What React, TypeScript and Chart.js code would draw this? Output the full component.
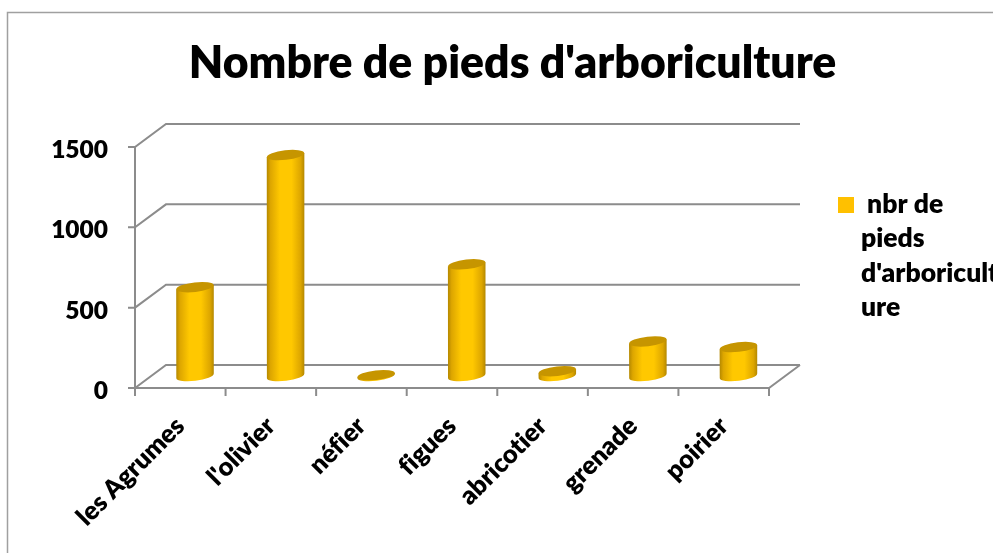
import React, { useEffect, useRef } from "react";
import { Chart, registerables } from "chart.js";

Chart.register(...registerables);

const categories = ["les Agrumes", "l'olivier", "néfier", "figues", "abricotier", "grenade", "poirier"];
const seriesValues = [553, 1375, 5, 695, 30, 215, 180];
const seriesName = "nbr de pieds d'arboriculture";
const legendLines = [" nbr de", "pieds", "d'arboricult", "ure"];
const chartTitle = "Nombre de pieds d'arboriculture";
const yTicks = [0, 500, 1000, 1500];

const FONT = "Lato, 'Open Sans', sans-serif";
const GRID = "#8c8c8c";
const DX = 31;
const DY = -23;

function cylinder(ctx: CanvasRenderingContext2D, cx: number, topY: number, baseY: number, w: number) {
  const rx = w / 2;
  const ry = 4.8;
  const tilt = -0.115;
  const sl = Math.sin(tilt) * rx;
  ctx.save();
  const g = ctx.createLinearGradient(cx - rx, 0, cx + rx, 0);
  g.addColorStop(0, "#B48800");
  g.addColorStop(0.1, "#DDA600");
  g.addColorStop(0.35, "#FFC800");
  g.addColorStop(0.66, "#FFC800");
  g.addColorStop(0.9, "#DDA600");
  g.addColorStop(1, "#B48800");
  ctx.fillStyle = g;
  ctx.beginPath();
  ctx.moveTo(cx - rx, topY - sl);
  ctx.lineTo(cx + rx, topY + sl);
  ctx.lineTo(cx + rx, baseY + sl);
  ctx.ellipse(cx, baseY, rx, ry, tilt, 0, Math.PI);
  ctx.closePath();
  ctx.fill();
  ctx.fillStyle = "#C69500";
  ctx.beginPath();
  ctx.ellipse(cx, topY, rx, ry, tilt, 0, Math.PI * 2);
  ctx.fill();
  ctx.restore();
}

const scene = {
  id: "scene",
  afterLayout(chart: any) {
    chart.titleBlock.left += 128;
    chart.titleBlock.right += 128;
  },
  beforeDraw(chart: any) {
    const { ctx, width, height } = chart;
    ctx.textRendering = "optimizeSpeed";
    ctx.save();
    ctx.strokeStyle = "#a0a0a0";
    ctx.lineWidth = 1.5;
    ctx.beginPath();
    ctx.moveTo(7.5, height);
    ctx.lineTo(7.5, 12.5);
    ctx.lineTo(width, 12.5);
    ctx.stroke();
    ctx.restore();
  },
  beforeDatasetsDraw(chart: any) {
    const { ctx } = chart;
    const { x, y } = chart.scales;
    const L = x.left;
    const R = x.right;
    ctx.save();
    ctx.strokeStyle = GRID;
    ctx.lineWidth = 2;
    ctx.beginPath();
    for (const v of yTicks) {
      const py = y.getPixelForValue(v);
      ctx.moveTo(L - 7, py);
      ctx.lineTo(L, py);
      ctx.lineTo(L + DX, py + DY);
      ctx.lineTo(R + DX, py + DY);
    }
    const y0 = y.getPixelForValue(0);
    ctx.moveTo(L, y.getPixelForValue(1500));
    ctx.lineTo(L, y0);
    ctx.lineTo(R, y0);
    ctx.lineTo(R + DX, y0 + DY);
    const step = (R - L) / categories.length;
    for (let i = 0; i <= categories.length; i++) {
      const tx = i < categories.length ? x.getPixelForValue(i) - step / 2 : x.getPixelForValue(i - 1) + step / 2;
      ctx.moveTo(tx, y0);
      ctx.lineTo(tx, y0 + 8);
    }
    ctx.stroke();
    ctx.restore();
  },
  beforeDatasetDraw(chart: any, args: any) {
    const { ctx } = chart;
    const meta = chart.getDatasetMeta(args.index);
    for (const el of meta.data) {
      cylinder(ctx, el.x + 14.7, el.y - 12, el.base - 12, el.width);
    }
    return false;
  },
  afterDraw(chart: any) {
    const { ctx } = chart;
    ctx.save();
    ctx.fillStyle = "#FFC000";
    ctx.fillRect(838, 197, 16, 16);
    ctx.fillStyle = "#000";
    ctx.font = `800 26.5px ${FONT}`;
    ctx.textBaseline = "alphabetic";
    const ys = [213, 247, 282, 316];
    legendLines.forEach((t, i) => ctx.fillText(t, 861, ys[i]));
    ctx.restore();
  },
};

export default function App() {
  const ref = useRef<HTMLCanvasElement>(null);
  useEffect(() => {
    const chart = new Chart(ref.current!, {
      type: "bar",
      data: {
        labels: categories,
        datasets: [{ label: seriesName, data: seriesValues, backgroundColor: "#FFC000", categoryPercentage: 1, barPercentage: 0.415 }],
      },
      plugins: [scene],
      options: {
        responsive: false,
        animation: false,
        layout: { padding: { left: 0, top: 0, right: 224, bottom: 0 } },
        plugins: {
          legend: { display: false },
          tooltip: { enabled: false },
          title: {
            display: true,
            text: chartTitle,
            color: "#000",
            font: { family: FONT, size: 44.5, weight: "800", lineHeight: 1.2 },
            padding: { top: 37, bottom: 56.6 },
          },
        },
        scales: {
          x: {
            grid: { display: false },
            border: { display: false },
            afterFit(s: any) { s.height = 165; },
            ticks: { color: "#000", minRotation: 45, maxRotation: 45, padding: 15, font: { family: FONT, size: 25.5, weight: "800" } },
          },
          y: {
            min: 0,
            max: 1500,
            grid: { display: false },
            border: { display: false },
            afterFit(s: any) { s.width = 135; },
            ticks: {
              color: "#000",
              stepSize: 500,
              padding: 19,
              labelOffset: 3,
              callback: (v: any) => String(v),
              font: { family: FONT, size: 24.5, weight: "800" },
            },
          },
        },
      },
    } as any);
    return () => chart.destroy();
  }, []);
  return <canvas ref={ref} width={993} height={553} style={{ position: "fixed", left: 0, top: 0, display: "block" }} />;
}
